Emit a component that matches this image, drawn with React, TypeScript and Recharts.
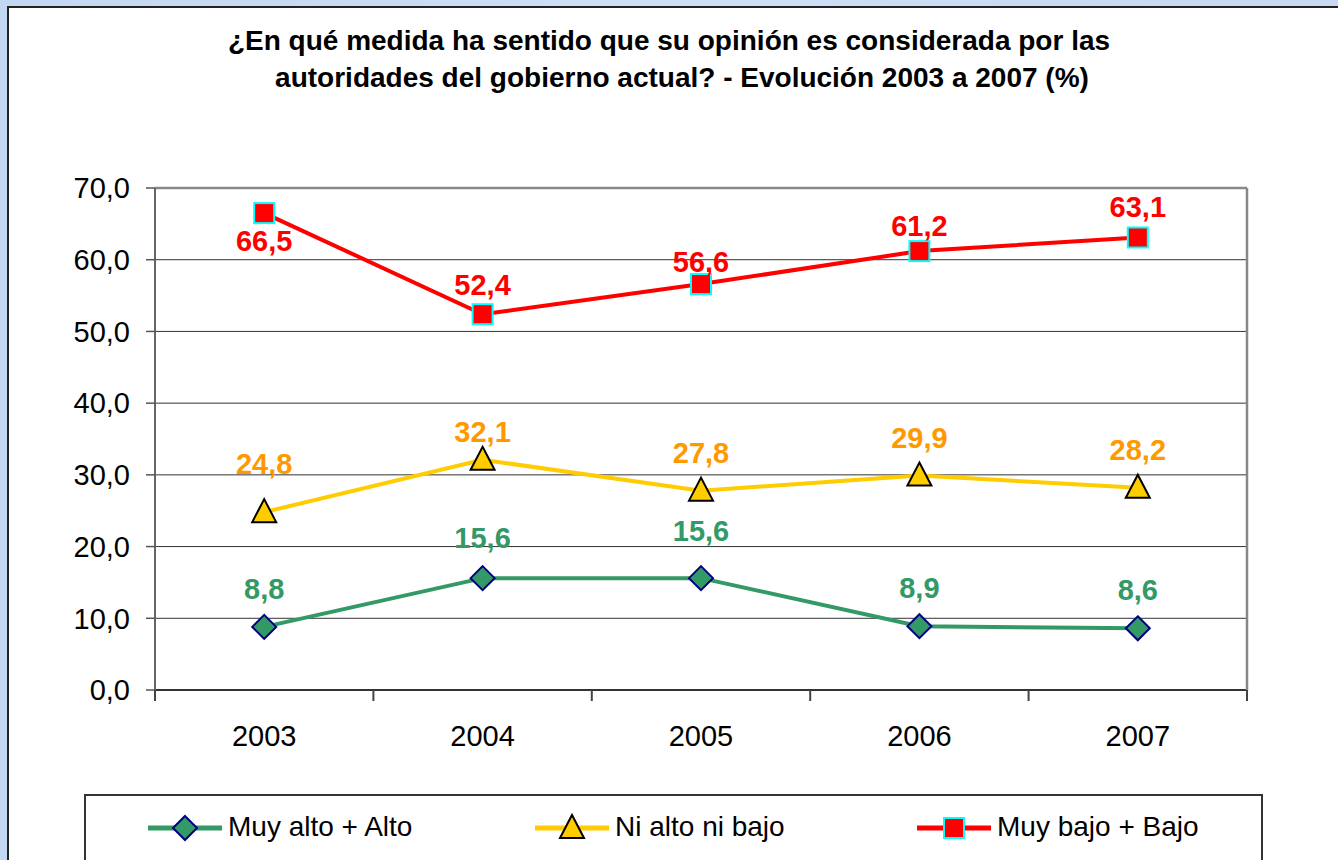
import React from 'react';
import { LineChart, Line, XAxis, YAxis, CartesianGrid, LabelList, ReferenceLine } from 'recharts';

const YEARS = ['2003', '2004', '2005', '2006', '2007'];
const MUY_ALTO_ALTO = [8.8, 15.6, 15.6, 8.9, 8.6];
const NI_ALTO_NI_BAJO = [24.8, 32.1, 27.8, 29.9, 28.2];
const MUY_BAJO_BAJO = [66.5, 52.4, 56.6, 61.2, 63.1];
const Y_TICKS = [0, 10, 20, 30, 40, 50, 60, 70];
const TITLE_LINES = [
  '¿En qué medida ha sentido que su opinión es considerada por las',
  'autoridades del gobierno actual? - Evolución 2003 a 2007 (%)',
];
const SERIES_NAMES = ['Muy alto + Alto', 'Ni alto ni bajo', 'Muy bajo + Bajo'];

const data = YEARS.map((year, i) => ({
  year,
  alto: MUY_ALTO_ALTO[i],
  ni: NI_ALTO_NI_BAJO[i],
  bajo: MUY_BAJO_BAJO[i],
}));

// label placement (vertical offset of the label centre from its point, px)
const LABEL_DY: Record<string, number[]> = {
  alto: [-38, -40, -47, -38, -38],
  ni: [-48, -28, -38, -38, -38],
  bajo: [28, -29, -22, -25, -30],
};

const PLOT_LEFT = 155;
const PLOT_RIGHT = 1247;
const HALF_BAND = (PLOT_RIGHT - PLOT_LEFT) / YEARS.length / 2;

const FONT = '"Liberation Sans", Arial, Helvetica, sans-serif';
const fmt = (v: number) => v.toFixed(1).replace('.', ',');

const Diamond = ({ cx, cy }: any) => (
  <polygon
    points={`${cx},${cy - 12} ${cx + 12},${cy} ${cx},${cy + 12} ${cx - 12},${cy}`}
    fill="#339966"
    stroke="#000080"
    strokeWidth={2}
  />
);
const Triangle = ({ cx, cy }: any) => (
  <polygon
    points={`${cx},${cy - 13} ${cx + 12},${cy + 10} ${cx - 12},${cy + 10}`}
    fill="#ffcc00"
    stroke="#000"
    strokeWidth={2}
    strokeLinejoin="miter"
  />
);
const Square = ({ cx, cy }: any) => (
  <rect x={cx - 10} y={cy - 10} width={20} height={20} fill="#ff0000" stroke="#00ffff" strokeWidth={2} />
);

const SERIES = [
  { key: 'alto', name: SERIES_NAMES[0], line: '#339966', label: '#339966', Marker: Diamond },
  { key: 'ni', name: SERIES_NAMES[1], line: '#ffcc00', label: '#ff9900', Marker: Triangle },
  { key: 'bajo', name: SERIES_NAMES[2], line: '#ff0000', label: '#ff0000', Marker: Square },
];

const makeLabel = (key: string, color: string) => (props: any) => {
  const { x, y, value, index } = props;
  const dy = LABEL_DY[key][index] ?? -30;
  return (
    <text
      x={x}
      y={y + dy + 10}
      textAnchor="middle"
      fill={color}
      fontFamily={FONT}
      fontWeight="bold"
      fontSize={29}
    >
      {fmt(Number(value))}
    </text>
  );
};

const X_TICK_GAP = 35;
const XTick = (props: any) => {
  const { x, y, payload, index, visibleTicksCount } = props;
  const half = HALF_BAND;
  const axisY = y - X_TICK_GAP;
  const last = index === (visibleTicksCount ?? YEARS.length) - 1;
  return (
    <g>
      <line x1={x - half} x2={x - half} y1={axisY} y2={axisY + 11} stroke="#444" strokeWidth={2} />
      {last && <line x1={x + half} x2={x + half} y1={axisY} y2={axisY + 11} stroke="#444" strokeWidth={2} />}
      <text x={x} y={y} dy="0.71em" textAnchor="middle" fill="#000" fontFamily={FONT} fontSize={29}>
        {payload.value}
      </text>
    </g>
  );
};

const LEGEND_POS = [
  { lineX: 148, textX: 228 },
  { lineX: 535, textX: 615 },
  { lineX: 917, textX: 997 },
];

export default function App() {
  return (
    <div style={{ position: 'fixed', left: 0, top: 0, width: 1338, height: 860, overflow: 'hidden', fontFamily: FONT }}>
      <div
        style={{
          position: 'absolute',
          inset: 0,
          background: 'linear-gradient(90deg, #c4d7f2 0%, #cddff5 50%, #c6d9f1 100%)',
        }}
      />
      <div
        style={{
          position: 'absolute',
          left: 7,
          top: 6,
          width: 1400,
          height: 900,
          background: '#fff',
          border: '2px solid #222',
          boxSizing: 'border-box',
        }}
      />
      <div style={{ position: 'absolute', left: 0, top: 0 }}>
        <LineChart width={1338} height={860} data={data} margin={{ top: 188, right: 90, bottom: 0, left: 0 }}>
          <CartesianGrid vertical={false} stroke="#333" strokeWidth={1} />
          <XAxis
            dataKey="year"
            type="category"
            height={170}
            padding={{ left: HALF_BAND, right: HALF_BAND }}
            tickLine={false}
            tickSize={0}
            tickMargin={X_TICK_GAP}
            axisLine={{ stroke: '#333', strokeWidth: 2 }}
            tick={<XTick />}
            interval={0}
          />
          <YAxis
            domain={[0, 70]}
            ticks={Y_TICKS}
            width={155}
            tickSize={9}
            tickMargin={16}
            tickFormatter={fmt}
            tick={{ fill: '#000', fontSize: 29, fontFamily: FONT }}
            tickLine={{ stroke: '#555', strokeWidth: 1.5 }}
            axisLine={{ stroke: '#666', strokeWidth: 2 }}
            interval={0}
          />
          <YAxis
            yAxisId="r"
            orientation="right"
            width={1}
            domain={[0, 70]}
            tick={false}
            tickLine={false}
            axisLine={{ stroke: '#888', strokeWidth: 2.5 }}
          />
          <ReferenceLine y={70} stroke="#888" strokeWidth={2.5} />
          {SERIES.map((s) => (
            <Line
              key={s.key}
              dataKey={s.key}
              name={s.name}
              stroke={s.line}
              strokeWidth={4}
              isAnimationActive={false}
              activeDot={false}
              dot={(p: any) => <s.Marker key={`${s.key}-${p.index}`} cx={p.cx} cy={p.cy} />}
            >
              <LabelList dataKey={s.key} content={makeLabel(s.key, s.label)} />
            </Line>
          ))}
        </LineChart>
      </div>
      <svg
        width={1338}
        height={860}
        style={{ position: 'absolute', left: 0, top: 0, pointerEvents: 'none' }}
      >
        <text x={669} y={50} textAnchor="middle" fontFamily={FONT} fontWeight="bold" fontSize={28} fill="#000">
          {TITLE_LINES[0]}
        </text>
        <text x={682} y={87} textAnchor="middle" fontFamily={FONT} fontWeight="bold" fontSize={28} fill="#000">
          {TITLE_LINES[1]}
        </text>
        <rect x={85} y={795} width={1177} height={100} fill="#fff" stroke="#333" strokeWidth={2} />
        {SERIES.map((s, i) => {
          const p = LEGEND_POS[i];
          const cy = 828;
          return (
            <g key={s.key}>
              <line x1={p.lineX} x2={p.lineX + 74} y1={cy} y2={cy} stroke={s.line} strokeWidth={5} />
              <s.Marker cx={p.lineX + 37} cy={cy} />
              <text x={p.textX} y={836} fontFamily={FONT} fontSize={28} fill="#000">
                {s.name}
              </text>
            </g>
          );
        })}
      </svg>
    </div>
  );
}
